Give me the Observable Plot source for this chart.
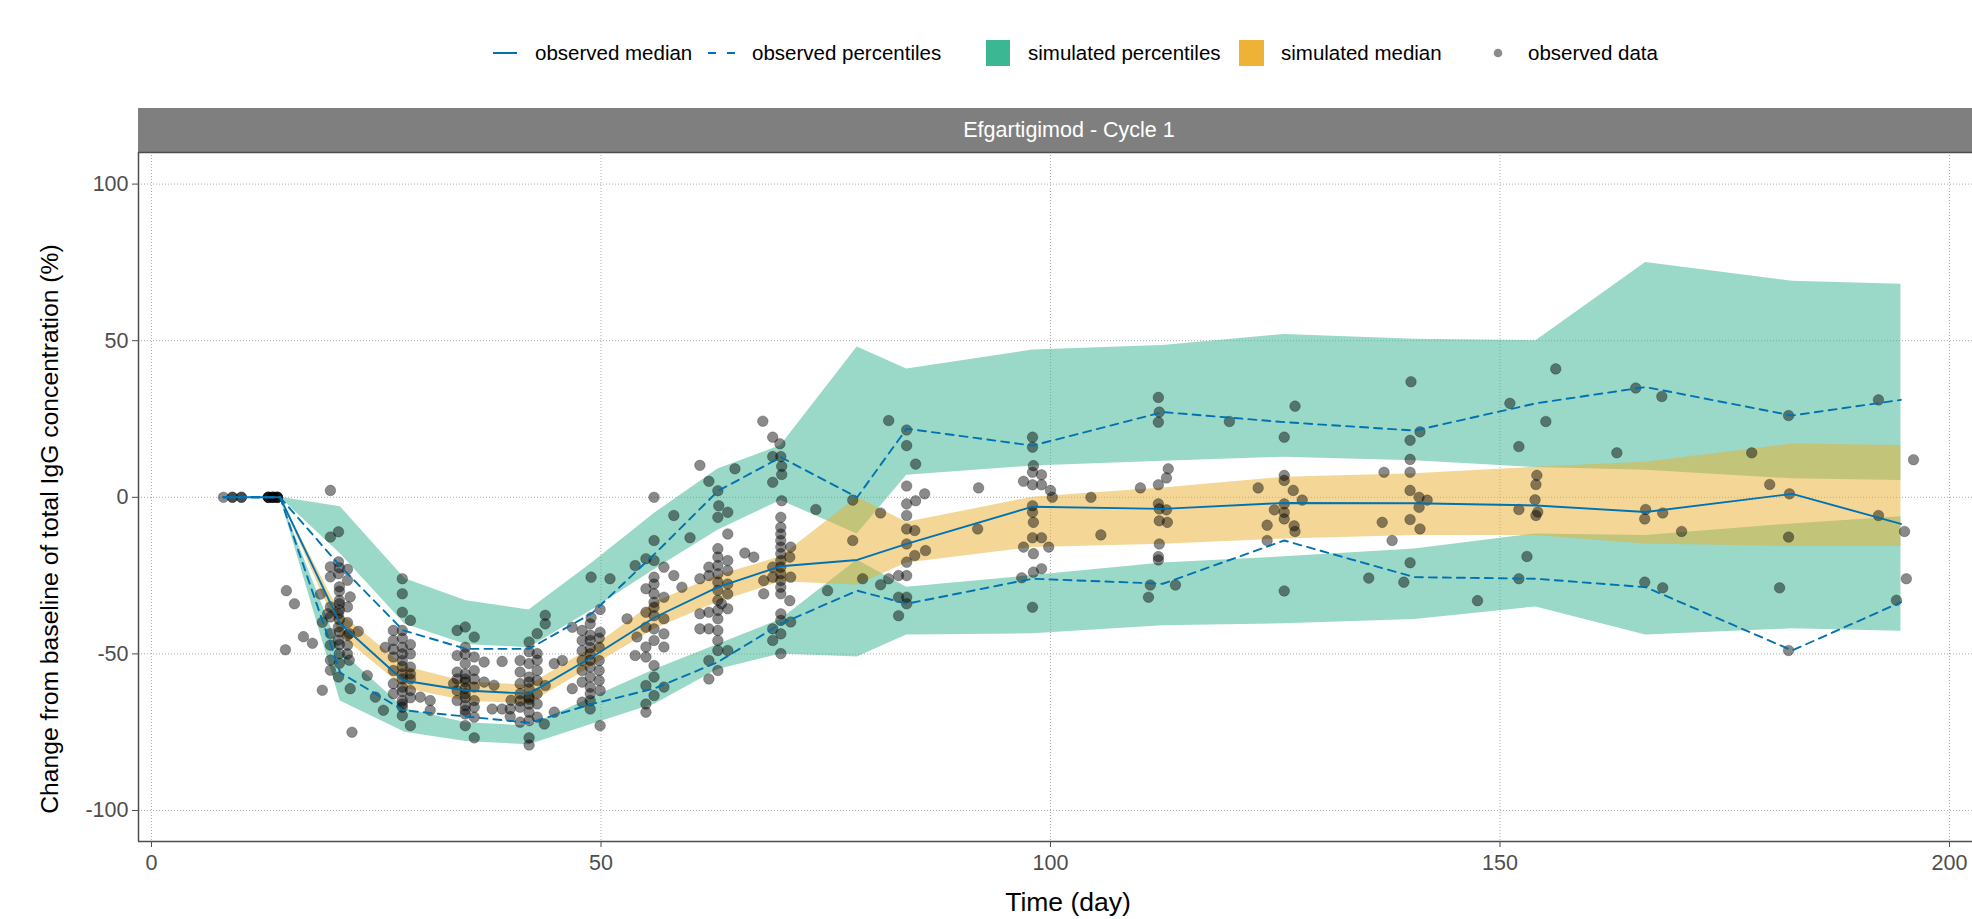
<!DOCTYPE html>
<html>
<head>
<meta charset="utf-8">
<script src="https://cdn.jsdelivr.net/npm/d3@7"></script>
<script src="https://cdn.jsdelivr.net/npm/@observablehq/plot@0.6"></script>
<style>
  html, body { margin: 0; padding: 0; background: #fff; overflow: hidden; }
  body { width: 1972px; height: 919px; position: relative; font-family: 'Liberation Sans', Arial, sans-serif; }
  .abs { position: absolute; white-space: nowrap; }
  .leg { font-size: 20.5px; color: #000; line-height: 24px; top: 41px; }
  #chart { position: absolute; left: 0; top: 152px; }
</style>
</head>
<body>
<div id="legend"></div>
<div class="abs" style="left:138px; top:108px; width:1834px; height:44px; background:#7f7f7f;"></div>
<div class="abs" style="left:1069px; top:130px; transform:translate(-50%,-50%); color:#fff; font-size:21.5px;">Efgartigimod - Cycle 1</div>
<div id="chart"></div>
<div class="abs" style="left:50px; top:529px; transform:translate(-50%,-50%) rotate(-90deg); font-size:24.7px; color:#000;">Change from baseline of total IgG concentration (%)</div>
<div class="abs" style="left:1068px; top:902px; transform:translate(-50%,-50%); font-size:26.5px; color:#000;">Time (day)</div>
<script>
// ---- axis ticks ----
const xTicks = [0, 50, 100, 150, 200];
const yTicks = [-100, -50, 0, 50, 100];

// ---- simulated bins (day) and percentile confidence bands ----
const simDays   = [14.3, 21, 28.2, 35, 42, 49, 56, 63, 70, 78.5, 84, 98, 112.5, 126, 140.5, 154, 166.2, 182.5, 194.6];
const simHiTop  = [0, -3, -26, -33, -36, -21, -5, 9, 16.5, 48, 41, 47, 48.5, 52, 50.5, 50, 75, 69, 68];
const simHiBot  = [0, -18, -40.5, -47, -48, -36, -23, -10.5, -1, -11.7, 7, 10, 11.5, 12.8, 11.7, 9.5, 8.6, 5.9, 5.4];
const simMedTop = [0, -37, -54, -59, -60, -48, -33.5, -25, -19, 0, -8, 0, 3, 6.4, 7.5, 9.6, 11.2, 17, 16.5];
const simMedBot = [0, -44, -61, -65, -66, -54, -42, -33.5, -27, -28, -21, -16, -15, -13.3, -12.2, -12.2, -14.9, -15.7, -15.7];
const simLoTop  = [0, -49, -67.5, -72, -73, -64, -55, -47, -39, -20, -28.7, -25, -21, -19, -16.5, -11.7, -12.2, -8.5, -6.2];
const simLoBot  = [0, -65, -75, -78, -79, -72.5, -66, -55, -50, -51, -44, -43.6, -41, -40.4, -39, -35, -44, -42, -42.8];

// ---- observed median and percentiles ----
const obsDays   = [8, 14.3, 21, 28, 35, 42, 49, 56, 63, 70, 78.5, 84, 98, 112.5, 126, 140.5, 154, 166.2, 182.5, 194.6];
const obsMedian = [0, 0, -40.4, -58.5, -61.7, -62.7, -51, -38.3, -28.7, -22, -20, -14.9, -3, -3.7, -1.8, -1.9, -2.6, -4.7, 1.1, -8.5];
const obsUpper  = [0, 0, -22, -42.5, -48.4, -48.4, -37, -18, 2, 12.8, 0, 21.9, 16.5, 27.2, 24, 21.3, 30, 35.2, 26.1, 31.1];
const obsLower  = [0, 0, -56, -68, -70, -72, -66, -61, -52.6, -40.4, -29.8, -34, -26, -27.6, -13.8, -25.5, -26, -28.7, -48.9, -33.5];

// ---- observed data points [day, change %] ----
const ptsPre = [[8,0],[9,0],[9,0],[10,0],[10,0],[13,0],[13,0],[13,0],[13,0],[13.5,0],[13.5,0],[13.5,0],[13.5,0],[14,0],[14,0],[14,0],[14,0],[19.9,2.2]];
const pts21 = [[19.9,-12.7],[20.8,-11],[19.9,-22.2],[20.8,-20.6],[19.9,-25.4],[20.8,-24.4],[21.8,-26.5],[20.9,-28.6],[22.1,-31.8],[20.9,-32.9],[19.9,-35],[19.9,-38.2],[20.8,-37.2],[21.8,-35],[19,-39.9],[20.8,-41.4],[19.9,-43.5],[22,-43.5],[20.8,-45.6],[19.9,-47.2],[21.8,-47.2],[20.9,-49.9],[22,-52],[19.9,-52],[19.9,-55.2],[20.8,-57.4],[22.1,-61.1],[19,-61.6],[23,-42.8],[16.9,-44.5],[17.9,-46.6],[14.9,-48.7],[15,-29.8],[15.9,-34],[22.3,-75],[24,-56.9],[18.8,-30.9],[19.6,-37.2],[20.9,-30],[20.9,-34],[20.9,-36],[20.9,-39],[20.9,-43],[20.9,-47],[20.9,-53],[21.8,-40],[21.8,-44],[21.8,-50],[20.9,-22.5],[21.8,-23]];
const pts28 = [[27.9,-26],[27.9,-30.8],[27.9,-36.7],[28.8,-39.3],[26.9,-42.5],[27.9,-42.5],[26.9,-45.7],[27.9,-47.9],[28.8,-50],[26.9,-51],[27.9,-52.1],[28.8,-54.2],[26.9,-55.3],[27.9,-56.4],[28.8,-56.4],[26,-47.9],[26.9,-59.5],[27.9,-60.6],[28.8,-61.7],[26.9,-62.7],[27.9,-64.9],[29.9,-63.8],[31,-64.9],[31,-68],[27.9,-69.7],[28.8,-72.9],[27.9,-67],[24.9,-63.8],[25.8,-68],[27.9,-45],[27.9,-50],[27.9,-54],[27.9,-58],[27.9,-62],[28.8,-58],[28.8,-47],[26.9,-48.5],[27.9,-66],[28.8,-64]];
const pts35 = [[34,-42.5],[34.9,-41.4],[35.9,-44.6],[34.9,-47.9],[34,-50.5],[35.9,-51],[34.9,-53.1],[37,-52.6],[34,-55.8],[34.9,-56.4],[35.9,-55.3],[34.9,-59],[34,-61.7],[35.9,-60.6],[34.9,-62.7],[37,-59],[34,-64.9],[34.9,-66.5],[35.9,-64.9],[34.9,-69.2],[35.9,-70.2],[34.9,-72.9],[37.9,-67.6],[39,-67.6],[39.9,-67.6],[39,-52.4],[39.9,-70],[35.9,-76.8],[33.6,-59.5],[34.9,-58],[34.9,-61],[34.9,-64],[34.9,-68],[34.9,-50],[34,-58],[35.9,-58],[35.9,-67]];
const pts42 = [[43.8,-37.7],[43.8,-40.4],[42.9,-43.5],[42,-46.2],[42,-49.3],[42.9,-49.9],[41,-52.1],[42,-53.1],[42.9,-55.3],[41,-55.8],[42,-57.4],[42.9,-58.5],[41,-59.5],[42,-61.1],[43.8,-60.1],[41,-62.7],[42,-63.8],[42.9,-62.7],[42,-66],[41,-67],[42,-68.6],[42.9,-70.2],[42,-71.3],[41,-71.8],[42,-76.8],[42,-79.1],[43.7,-72.4],[44.8,-68.6],[44.8,-53.1],[45.7,-52.1],[46.8,-41.5],[38.1,-60],[40,-64.8],[42,-59],[42,-64.5],[42.9,-66],[41,-65],[42.9,-52]];
const pts49 = [[49.9,-35.8],[48.9,-38.4],[47.9,-42.5],[48.8,-40.4],[49.9,-43.1],[47.9,-45.7],[48.8,-45.7],[49.8,-47.9],[47.9,-49],[48.8,-50],[49.8,-52.1],[47.9,-52.1],[48.8,-54.2],[47.9,-55.3],[49.8,-55.3],[48.8,-57.4],[47.9,-59],[49.8,-58.5],[48.8,-60.6],[46.8,-61.1],[48.8,-62.7],[47.9,-65.4],[48.8,-64.9],[48.8,-67.6],[49.9,-72.9],[49.9,-61.7],[48.9,-25.5],[51,-26],[48.8,-48],[48.8,-52],[48.8,-44],[49.8,-45]];
const pts56 = [[55.9,0],[55.9,-13.8],[55,-19.6],[53.8,-21.8],[55.9,-20.2],[58.1,-5.8],[59.9,-12.9],[57,-22.3],[55.9,-25.5],[55,-29.2],[55.9,-27.7],[55.9,-30.8],[57,-31.9],[55.9,-33.5],[55,-36.7],[55.9,-35.1],[55.9,-37.8],[57,-38.8],[55,-41.5],[55.9,-42],[57,-43.6],[54,-44.6],[55.9,-45.7],[55,-47.8],[57,-47.8],[53.8,-50.5],[55,-51],[55.9,-53.7],[55.9,-57.4],[57,-60.6],[55,-60.1],[55.9,-63.3],[59,-28.7],[58.1,-25],[52.9,-38.8],[55,-68.6],[55,-66]];
const pts63 = [[61,10.2],[62,5.1],[63,2.1],[64.9,9.1],[63.1,-2.7],[64.1,-4.8],[63,-6.4],[64.1,-11.7],[63,-16.4],[63,-19.1],[63,-21.8],[63,-24.4],[63,-27.1],[63,-29.7],[63,-32.9],[63,-36.1],[63,-38.8],[63,-42.5],[62,-22.3],[61,-26],[62,-25],[64.1,-20.2],[64.1,-23.4],[64.1,-27.7],[64.1,-30.9],[63.4,-34],[62,-36.7],[61,-37.2],[64.1,-35.6],[61,-42],[62,-42],[63,-45.7],[63,-48.9],[62,-52.1],[63,-55.3],[62,-58],[64.1,-48.9]];
const pts70 = [[68,24.3],[69.1,19.2],[69.9,17.1],[69.1,13],[70,13],[70.1,9.9],[70.1,7.3],[69.1,4.8],[70.1,-1.1],[73.9,-3.9],[70,-6.4],[70,-9.6],[70,-11.7],[70,-13.8],[70,-15.9],[70,-18],[70,-20.2],[70,-22.3],[70,-24.4],[70,-26.6],[70,-28.7],[70,-30.8],[70,-37.2],[70,-39.3],[71.1,-15.9],[71,-19.1],[71.1,-25.5],[71,-33],[69.1,-22.3],[68.1,-26.6],[68.1,-30.8],[67,-19.1],[66,-17.8],[71.1,-39.8],[69.1,-42],[70,-43.6],[69.1,-45.7],[70,-49.9],[69.1,-25.5]];
const pts84 = [[78,-0.9],[78,-13.8],[79.1,-26],[75.2,-29.8],[81.1,-5],[82,24.5],[84,21.5],[84,16.5],[85,10.6],[84,3.6],[84,-2.1],[84,-5.8],[85,-1.1],[86,1.1],[84,-10.1],[84.9,-10.6],[84,-14.9],[86.1,-17],[84,-20.7],[84.9,-18.6],[83.1,-25],[84,-25],[81.1,-27.9],[82,-26],[83.1,-31.9],[84,-31.9],[84,-34],[83.1,-37.8],[92,3],[91.9,-10.1]];
const pts98 = [[98,19.2],[98,16],[98.1,10.1],[98,8],[99,7.2],[97,5.1],[98,4],[99,4],[100,2.2],[100.2,0],[98,-2.7],[98,-4.8],[98.1,-8],[98,-12.9],[99,-12.9],[97,-15.9],[99.8,-15.9],[98.1,-18],[99,-22.8],[98.1,-23.9],[96.8,-25.7],[98,-35.1],[104.5,0],[105.6,-12]];
const pts112 = [[112,31.9],[112.1,27.2],[112,24],[113.1,9.1],[112.9,6.2],[112,4],[110,3],[112,-2.1],[112.1,-3.7],[112.9,-4],[112.1,-7.5],[113,-8],[112.1,-14.9],[112,-18.9],[112,-20],[111.1,-28],[110.9,-31.9],[113.9,-28]];
const pts126 = [[127.2,29.1],[126,19.2],[119.9,24.2],[126,7],[126,5.4],[127,2.2],[128,-0.9],[123.1,3],[124.9,-4],[126,-2.1],[126,-4.8],[126,-6.9],[124.1,-8.9],[127.1,-9.1],[127.2,-10.9],[124.1,-13.8],[126,-29.9]];
const pts140 = [[140.1,36.9],[141.1,20.9],[140,18.2],[140,12.1],[140,8],[137.1,8],[140,2.2],[141,0],[141.9,-0.9],[141,-3.2],[136.9,-8],[140,-7.1],[141.1,-10.1],[138,-13.8],[140,-20.9],[135.4,-25.8],[139.3,-27.1],[147.5,-33]];
const ptsLate = [[151.1,30],[156.2,41],[155.1,24.2],[152.1,16.2],[163,14.2],[154.1,7],[154,4.1],[153.9,-0.8],[152.1,-3.9],[154.2,-4.7],[154,-5.8],[166.2,-3.9],[166.1,-6.9],[168.1,-5],[170.2,-10.9],[165.1,34.9],[168,32.2],[178,14.2],[180,4.1],[182.1,26.1],[182.2,1.1],[182.1,-12.7],[192.1,31.1],[192.1,-5.8],[195,-10.9],[196,12],[153,-18.9],[152.1,-26],[166.1,-27.1],[168.1,-28.9],[181.1,-28.9],[182.1,-48.9],[194.1,-32.9],[195.2,-26]];

// ---- colours ----
const colBlue = "#0072B2";
const colGreen = "#36B28F";
const colOrange = "#E9AF2D";
const legendGreen = "#3CB794";
const legendOrange = "#EDB236";

// ---- tables built from arrays ----
const band = (top, bot) => simDays.map((d, i) => ({day: d, hi: top[i], lo: bot[i]}));
const bandHi = band(simHiTop, simHiBot);
const bandMed = band(simMedTop, simMedBot);
const bandLo = band(simLoTop, simLoBot);
const obsRows = obsDays.map((d, i) => ({day: d, med: obsMedian[i], up: obsUpper[i], lo: obsLower[i]}));
const points = [].concat(ptsPre, pts21, pts28, pts35, pts42, pts49, pts56, pts63, pts70, pts84, pts98, pts112, pts126, pts140, ptsLate)
  .map(([day, value]) => ({day, value}));

// ---- legend ----
const legendItems = [
  {kind: "line", x: 493, w: 24, textX: 535, label: "observed median"},
  {kind: "dash", x: 708, w: 28, textX: 752, label: "observed percentiles"},
  {kind: "rect", x: 986, w: 24, color: legendGreen, textX: 1028, label: "simulated percentiles"},
  {kind: "rect", x: 1239, w: 25, color: legendOrange, textX: 1281, label: "simulated median"},
  {kind: "dot", x: 1493, w: 10, textX: 1528, label: "observed data"}
];
const leg = document.getElementById("legend");
for (const it of legendItems) {
  const sw = document.createElementNS("http://www.w3.org/2000/svg", "svg");
  sw.setAttribute("width", it.w + 2);
  sw.setAttribute("height", 26);
  sw.style.position = "absolute";
  sw.style.left = (it.x - 1) + "px";
  sw.style.top = "40px";
  let inner = "";
  if (it.kind === "line") inner = `<line x1="1" x2="${it.w + 1}" y1="13" y2="13" stroke="${colBlue}" stroke-width="2"/>`;
  if (it.kind === "dash") inner = `<line x1="1" x2="${it.w + 1}" y1="13" y2="13" stroke="${colBlue}" stroke-width="2" stroke-dasharray="8,11"/>`;
  if (it.kind === "rect") inner = `<rect x="1" y="0" width="${it.w}" height="26" fill="${it.color}"/>`;
  if (it.kind === "dot") inner = `<circle cx="6" cy="13" r="4.3" fill="#000" fill-opacity="0.45"/>`;
  sw.innerHTML = inner;
  leg.appendChild(sw);
  const t = document.createElement("div");
  t.className = "abs leg";
  t.style.left = it.textX + "px";
  t.textContent = it.label;
  leg.appendChild(t);
}

// ---- chart ----
const xDomain = [-1.446, 202.56];
const yDomain = [-109.9, 110.09];
const chart = Plot.plot({
  width: 1972,
  height: 767,
  marginTop: 0,
  marginLeft: 138,
  marginRight: 0,
  marginBottom: 78,
  style: {fontFamily: "'Liberation Sans', Arial, sans-serif", fontSize: "21.5px", background: "transparent", overflow: "visible"},
  x: {domain: xDomain, ticks: xTicks, label: null},
  y: {domain: yDomain, ticks: yTicks, label: null},
  marks: [
    Plot.gridX(xTicks, {stroke: "#ababab", strokeOpacity: 1, strokeWidth: 1, strokeDasharray: "1,2"}),
    Plot.gridY(yTicks, {stroke: "#ababab", strokeOpacity: 1, strokeWidth: 1, strokeDasharray: "1,2"}),
    Plot.areaY(bandHi, {x: "day", y1: "lo", y2: "hi", fill: colGreen, fillOpacity: 0.5}),
    Plot.areaY(bandLo, {x: "day", y1: "lo", y2: "hi", fill: colGreen, fillOpacity: 0.5}),
    Plot.areaY(bandMed, {x: "day", y1: "lo", y2: "hi", fill: colOrange, fillOpacity: 0.5}),
    Plot.dot(points, {x: "day", y: "value", r: 5.3, fill: "#000", fillOpacity: 0.46, stroke: "#000", strokeOpacity: 0.3, strokeWidth: 0.8}),
    Plot.line(obsRows, {x: "day", y: "up", stroke: colBlue, strokeWidth: 1.9, strokeDasharray: "8,6"}),
    Plot.line(obsRows, {x: "day", y: "lo", stroke: colBlue, strokeWidth: 1.9, strokeDasharray: "8,6"}),
    Plot.line(obsRows, {x: "day", y: "med", stroke: colBlue, strokeWidth: 1.9}),
    Plot.ruleX([xDomain[0]], {stroke: "#4d4d4d", strokeWidth: 1.5}),
    Plot.ruleY([yDomain[0]], {stroke: "#4d4d4d", strokeWidth: 1.5}),
    Plot.ruleY([yDomain[1]], {stroke: "#4d4d4d", strokeWidth: 1.5}),
    Plot.axisX(xTicks, {tickSize: 6, tickPadding: 7, color: "#4d4d4d", fontSize: 21.5, label: null}),
    Plot.axisY(yTicks, {tickSize: 6, tickPadding: 4, color: "#4d4d4d", fontSize: 21.5, label: null,
      tickFormat: d => (d < 0 ? "-" : "") + Math.abs(d)})
  ]
});
document.getElementById("chart").appendChild(chart);
</script>
</body>
</html>
